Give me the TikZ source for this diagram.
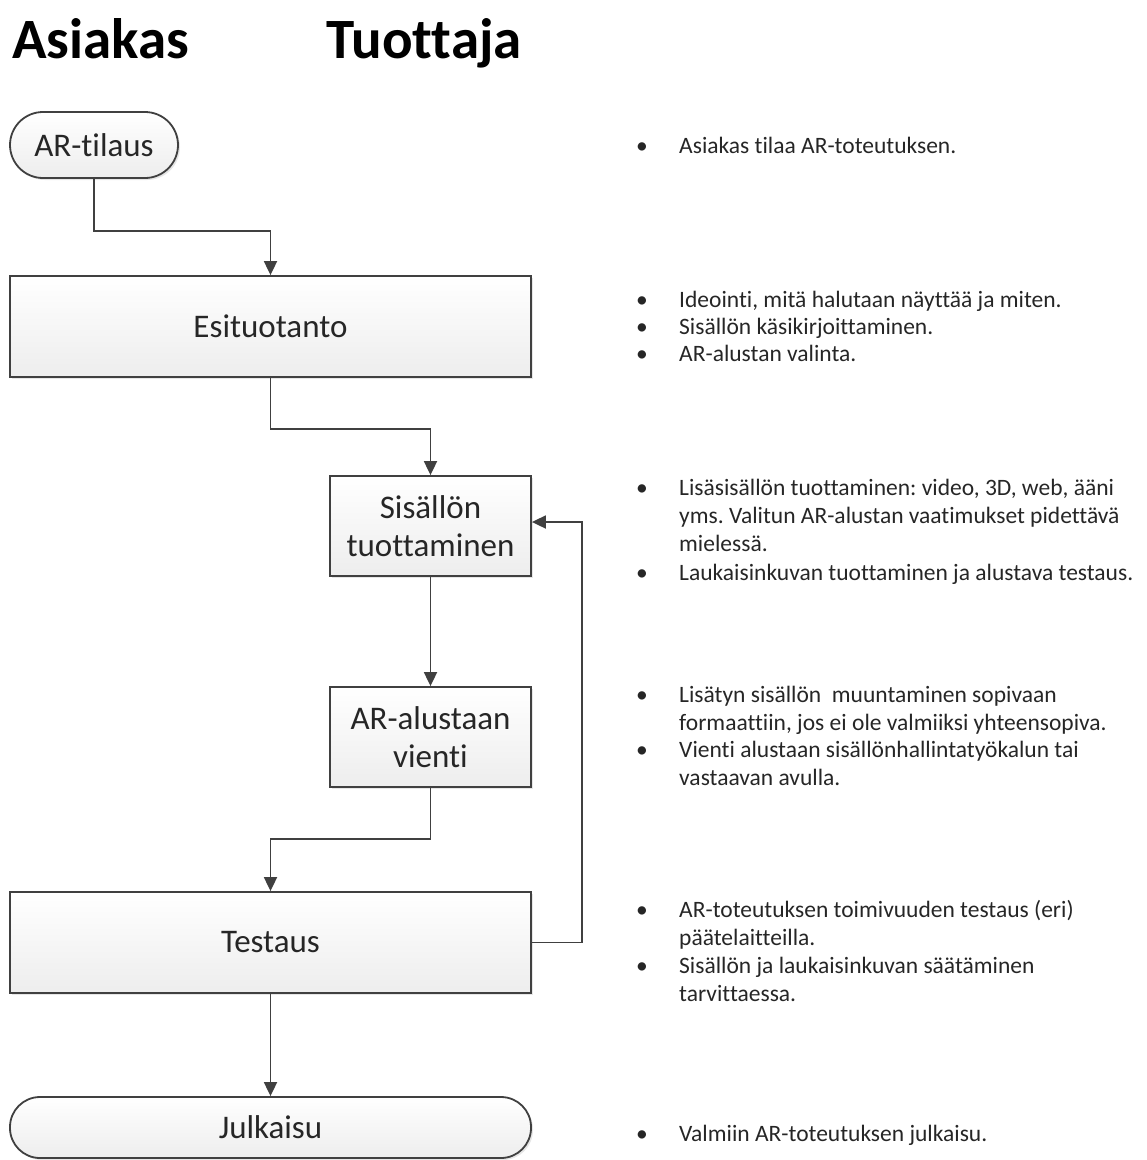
\documentclass[tikz,border=0pt]{standalone}
\usepackage{fontspec}
\setmainfont{Carlito}[Ligatures={NoCommon}]
\usetikzlibrary{arrows.meta,shadows}
\definecolor{ViivaClr}{rgb}{0.25,0.25,0.25}
\definecolor{TekstiClr}{rgb}{0.15,0.15,0.15}
\newcommand{\laatikkofont}{\fontsize{33}{38}\selectfont}
\newcommand{\selitefont}{\fontsize{23.5}{28}\selectfont}
\newcommand{\rivit}[1]{\begin{tabular}[t]{@{}l@{}}#1\end{tabular}}
\frenchspacing

\tikzset{
  vaihe/.style={draw=ViivaClr,line width=1.8pt,top color=white,bottom color=black!7,
    drop shadow={shadow xshift=2pt,shadow yshift=-2pt,opacity=0.2},
    align=center,font=\laatikkofont,text=TekstiClr,inner sep=0pt},
  paate/.style={vaihe,rounded corners=#1},
  nuoli/.style={draw=ViivaClr,line width=1.8pt,-{Triangle[length=14pt,width=13pt]}},
  otsikko/.style={anchor=base west,inner sep=0pt,font=\fontsize{57}{60}\selectfont\bfseries},
  pallo/.style={anchor=base,inner sep=0pt,font=\selitefont,text=TekstiClr},
  selite/.style={anchor=base west,inner sep=0pt,font=\selitefont,text=TekstiClr}
}

\begin{document}
\begin{tikzpicture}[x=1pt,y=-1pt]
\useasboundingbox (0,0) rectangle (1147,1160);

% otsikot
\node[otsikko] (asiakas) at (12,58) {Asiakas};
\node[otsikko] (tuottaja) at (326,58) {Tuottaja};

% vaiheet
\node[paate=33pt,minimum width=168pt,minimum height=66pt] (tilaus) at (94,145) {AR-tilaus};
\node[vaihe,minimum width=521pt,minimum height=101pt] (esi) at (270.5,326.5) {Esituotanto};
\node[vaihe,minimum width=201pt,minimum height=100pt] (sis) at (430.5,526) {Sisällön\\tuottaminen};
\node[vaihe,minimum width=201pt,minimum height=100pt] (vienti) at (430.5,737) {AR-alustaan\\vienti};
\node[vaihe,minimum width=521pt,minimum height=101pt] (testaus) at (270.5,942.5) {Testaus};
\node[paate=30pt,minimum width=521pt,minimum height=61pt] (julk) at (270.5,1127.5) {Julkaisu};

% yhteydet
\draw[nuoli] (tilaus.south) -- ++(0,52) -| (esi.north);
\draw[nuoli] (esi.south) -- ++(0,51) -| (sis.north);
\draw[nuoli] (sis.south) -- (vienti.north);
\draw[nuoli] (vienti.south) -- ++(0,51) -| (testaus.north);
\draw[nuoli] (testaus.east) -- ++(50,0) |- ([yshift=4pt]sis.east);
\draw[nuoli] (testaus.south) -- (julk.north);

% selitteet
\node[pallo] (p1) at (642,153) {\textbullet};
\node[selite] (s1) at (679,153) {Asiakas tilaa AR-toteutuksen.};

\node[pallo] (p2) at (642,307) {\textbullet};
\node[selite] (s2) at (679,307) {Ideointi, mitä halutaan näyttää ja miten.};
\node[pallo] (p3) at (642,334) {\textbullet};
\node[selite] (s3) at (679,334) {Sisällön käsikirjoittaminen.};
\node[pallo] (p4) at (642,361) {\textbullet};
\node[selite] (s4) at (679,361) {AR-alustan valinta.};

\node[pallo] (p5) at (642,495) {\textbullet};
\node[selite] (s5) at (679,495) {\rivit{Lisäsisällön tuottaminen: video, 3D, web, ääni\\
  yms. Valitun AR-alustan vaatimukset pidettävä\\mielessä.}};
\node[pallo] (p6) at (642,580) {\textbullet};
\node[selite] (s6) at (679,580) {Laukaisinkuvan tuottaminen ja alustava testaus.};

\node[pallo] (p7) at (642,702) {\textbullet};
\node[selite] (s7) at (679,702) {\rivit{Lisätyn sisällön\ \ muuntaminen sopivaan\\
  formaattiin, jos ei ole valmiiksi yhteensopiva.}};
\node[pallo] (p8) at (642,757) {\textbullet};
\node[selite] (s8) at (679,757) {\rivit{Vienti alustaan sisällönhallintatyökalun tai\\vastaavan avulla.}};

\node[pallo] (p9) at (642,917) {\textbullet};
\node[selite] (s9) at (679,917) {\rivit{AR-toteutuksen toimivuuden testaus (eri)\\päätelaitteilla.}};
\node[pallo] (p10) at (642,973) {\textbullet};
\node[selite] (s10) at (679,973) {\rivit{Sisällön ja laukaisinkuvan säätäminen\\tarvittaessa.}};

\node[pallo] (p11) at (642,1141) {\textbullet};
\node[selite] (s11) at (679,1141) {Valmiin AR-toteutuksen julkaisu.};
\end{tikzpicture}
\end{document}
